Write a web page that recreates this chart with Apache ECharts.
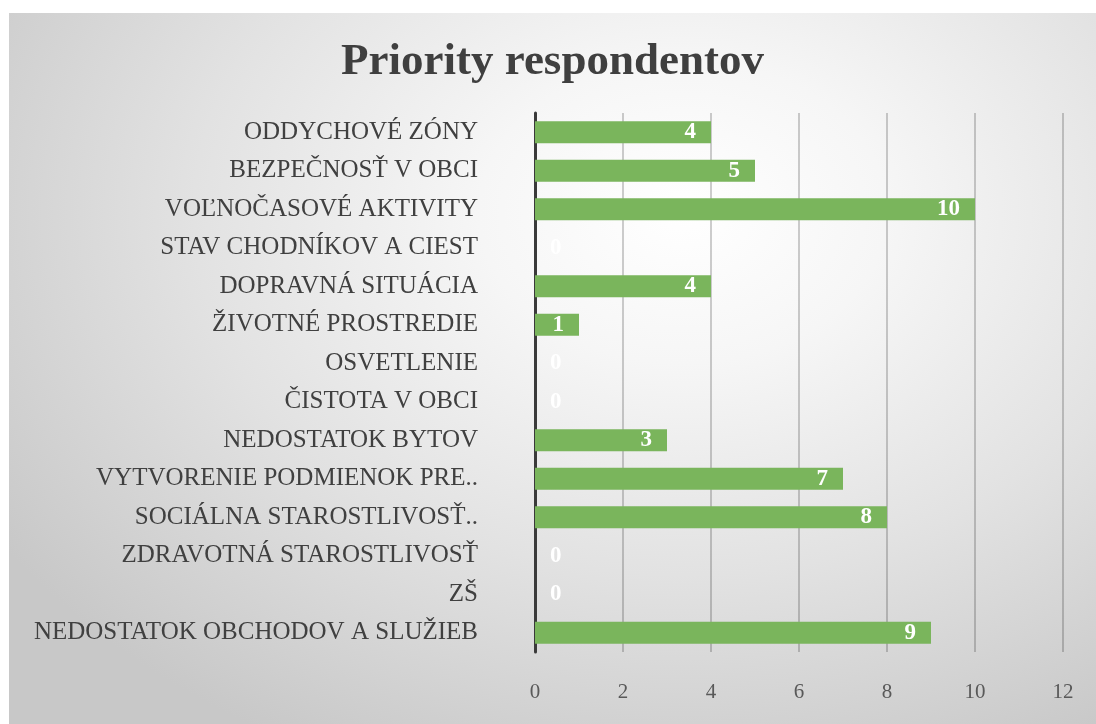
<!DOCTYPE html>
<html>
<head>
<meta charset="utf-8">
<script src="https://cdn.jsdelivr.net/npm/echarts@6/dist/echarts.min.js"></script>
<style>
html,body{margin:0;padding:0;background:#fff;width:1096px;height:724px;overflow:hidden;}
#panel{position:absolute;left:9px;top:13px;width:1087px;height:711px;
background:radial-gradient(ellipse 75% 85% at 62% 28%, #ffffff 0%, #f6f6f6 25%, #e2e2e2 60%, #c8c8c8 100%);}
#chart{width:1087px;height:711px;}
</style>
</head>
<body>
<div id="panel"><div id="chart"></div></div>
<script>
const titleText = 'Priority respondentov';
const categories = [
  'ODDYCHOVÉ ZÓNY',
  'BEZPEČNOSŤ V OBCI',
  'VOĽNOČASOVÉ AKTIVITY',
  'STAV CHODNÍKOV A CIEST',
  'DOPRAVNÁ SITUÁCIA',
  'ŽIVOTNÉ PROSTREDIE',
  'OSVETLENIE',
  'ČISTOTA V OBCI',
  'NEDOSTATOK BYTOV',
  'VYTVORENIE PODMIENOK PRE..',
  'SOCIÁLNA STAROSTLIVOSŤ..',
  'ZDRAVOTNÁ STAROSTLIVOSŤ',
  'ZŠ',
  'NEDOSTATOK OBCHODOV A SLUŽIEB'
];
const values = [4, 5, 10, 0, 4, 1, 0, 0, 3, 7, 8, 0, 0, 9];
const axisMin = 0, axisMax = 12, axisStep = 2;

const serif = '"Liberation Serif", "DejaVu Serif", serif';
const chart = echarts.init(document.getElementById('chart'));
chart.setOption({
  backgroundColor: 'transparent',
  animation: false,
  title: {
    text: titleText, left: 'center', top: 22,
    textStyle: {fontFamily: serif, fontSize: 45, fontWeight: 'bold', color: '#3f3f3f'}
  },
  grid: {left: 526, right: 33, top: 100, bottom: 72},
  xAxis: {
    type: 'value', min: axisMin, max: axisMax, interval: axisStep,
    axisLine: {show: false}, axisTick: {show: false},
    splitLine: {show: true, lineStyle: {color: 'rgba(0,0,0,0.26)', width: 1.5}},
    axisLabel: {margin: 30, fontFamily: serif, fontSize: 21, color: '#595959'}
  },
  yAxis: {
    type: 'category', data: categories, inverse: true,
    axisLine: {show: true, lineStyle: {color: '#3a3a3a', width: 3}},
    axisTick: {show: false},
    axisLabel: {margin: 57, fontFamily: serif, fontSize: 25, color: '#404040'}
  },
  series: [{
    type: 'bar', barWidth: 22,
    itemStyle: {color: '#7ab55c'},
    data: values.map(v => ({
      value: v,
      label: {position: v === 0 ? 'insideLeft' : 'insideRight'}
    })),
    label: {
      show: true, distance: 15, color: '#ffffff',
      fontFamily: serif, fontSize: 23, fontWeight: 'bold'
    }
  }]
});
</script>
</body>
</html>
